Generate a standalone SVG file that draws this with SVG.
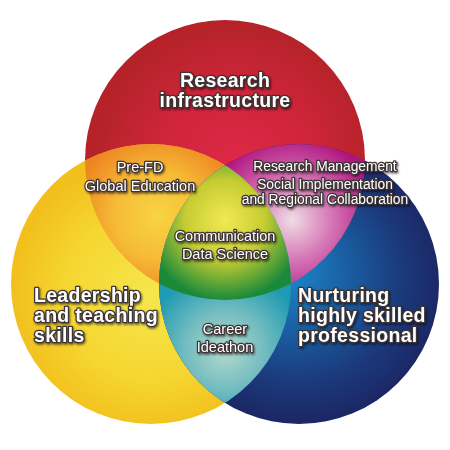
<svg xmlns="http://www.w3.org/2000/svg" width="450" height="450" viewBox="0 0 450 450">
  <defs>
    <clipPath id="cRed"><circle cx="225" cy="160" r="140"/></clipPath>
    <clipPath id="cYellow"><circle cx="151" cy="284" r="140"/></clipPath>
    <clipPath id="cBlue"><circle cx="299" cy="284" r="140"/></clipPath>
    <radialGradient id="gRed" gradientUnits="userSpaceOnUse" cx="235" cy="165" r="140">
      <stop offset="0" stop-color="#de2846"/>
      <stop offset="0.55" stop-color="#cf253a"/>
      <stop offset="1" stop-color="#b52329"/>
    </radialGradient>
    <radialGradient id="gYellow" gradientUnits="userSpaceOnUse" cx="150" cy="295" r="140">
      <stop offset="0" stop-color="#f6e64c"/>
      <stop offset="0.6" stop-color="#f5d630"/>
      <stop offset="1" stop-color="#f2bf1c"/>
    </radialGradient>
    <radialGradient id="gBlue" gradientUnits="userSpaceOnUse" cx="300" cy="280" r="140" fx="285" fy="270">
      <stop offset="0" stop-color="#1a8ccc"/>
      <stop offset="0.35" stop-color="#1a64a8"/>
      <stop offset="0.75" stop-color="#1b3a7c"/>
      <stop offset="1" stop-color="#1c2866"/>
    </radialGradient>
    <radialGradient id="gOrange" gradientUnits="userSpaceOnUse" cx="158" cy="215" r="85">
      <stop offset="0" stop-color="#f8d442"/>
      <stop offset="0.5" stop-color="#f6bc36"/>
      <stop offset="1" stop-color="#ed8420"/>
    </radialGradient>
    <radialGradient id="gMagenta" gradientUnits="userSpaceOnUse" cx="292" cy="220" r="85">
      <stop offset="0" stop-color="#f0dce4"/>
      <stop offset="0.45" stop-color="#d77ab8"/>
      <stop offset="1" stop-color="#b0147e"/>
    </radialGradient>
    <radialGradient id="gTeal" gradientUnits="userSpaceOnUse" cx="225" cy="350" r="80">
      <stop offset="0" stop-color="#b4dacc"/>
      <stop offset="0.5" stop-color="#72bcc0"/>
      <stop offset="1" stop-color="#1e9ab2"/>
    </radialGradient>
    <radialGradient id="gGreen" gradientUnits="userSpaceOnUse" cx="225" cy="220" r="80">
      <stop offset="0" stop-color="#f2ea52"/>
      <stop offset="0.5" stop-color="#c6cc32"/>
      <stop offset="1" stop-color="#1a8a3a"/>
    </radialGradient>
    <filter id="sh" x="-10%" y="-30%" width="120%" height="160%">
      <feDropShadow dx="1" dy="1.5" stdDeviation="1.2" flood-color="#000" flood-opacity="0.6"/>
    </filter>
  </defs>
  <style>
    text { font-family: "Liberation Sans", Arial, sans-serif; fill: #ffffff; stroke: #3e3434; paint-order: stroke; stroke-linejoin: round; filter: url(#sh); }
    .big { font-size: 19.5px; font-weight: bold; stroke-width: 2.6; letter-spacing: 0.3px; }
    .small { font-size: 14.5px; stroke-width: 2.4; }
    .mg { font-size: 13.8px; }
    .mid { text-anchor: middle; }
  </style>
  <rect width="450" height="450" fill="#ffffff"/>

  <g id="research-infrastructure">
    <circle cx="225" cy="160" r="140" fill="url(#gRed)"/>
  </g>
  <g id="leadership">
    <circle cx="151" cy="284" r="140" fill="url(#gYellow)"/>
  </g>
  <g id="nurturing">
    <circle cx="299" cy="284" r="140" fill="url(#gBlue)"/>
  </g>
  <g id="prefd-region" clip-path="url(#cRed)">
    <circle cx="151" cy="284" r="140" fill="url(#gOrange)"/>
  </g>
  <g id="research-management-region" clip-path="url(#cRed)">
    <circle cx="299" cy="284" r="140" fill="url(#gMagenta)"/>
  </g>
  <g id="career-region" clip-path="url(#cYellow)">
    <circle cx="299" cy="284" r="140" fill="url(#gTeal)"/>
  </g>
  <g id="communication-region" clip-path="url(#cRed)">
    <g clip-path="url(#cYellow)">
      <circle cx="299" cy="284" r="140" fill="url(#gGreen)"/>
    </g>
  </g>

  <g id="labels">
    <g id="label-research">
      <text class="big mid" x="225" y="87">Research</text>
      <text class="big mid" x="225" y="107">infrastructure</text>
    </g>
    <g id="label-leadership">
      <text class="big" x="34" y="302">Leadership</text>
      <text class="big" x="34" y="322">and teaching</text>
      <text class="big" x="34" y="342">skills</text>
    </g>
    <g id="label-nurturing">
      <text class="big" x="298" y="302">Nurturing</text>
      <text class="big" x="298" y="322">highly skilled</text>
      <text class="big" x="298" y="342">professional</text>
    </g>
    <g id="label-prefd">
      <text class="small mid" x="140" y="172">Pre-FD</text>
      <text class="small mid" x="140" y="191">Global Education</text>
    </g>
    <g id="label-management">
      <text class="small mg mid" x="325" y="171">Research Management</text>
      <text class="small mg mid" x="325" y="189">Social Implementation</text>
      <text class="small mg mid" x="325" y="204">and Regional Collaboration</text>
    </g>
    <g id="label-communication">
      <text class="small mid" x="225" y="241">Communication</text>
      <text class="small mid" x="225" y="259">Data Science</text>
    </g>
    <g id="label-career">
      <text class="small mid" x="225" y="334">Career</text>
      <text class="small mid" x="225" y="352">Ideathon</text>
    </g>
  </g>
</svg>
